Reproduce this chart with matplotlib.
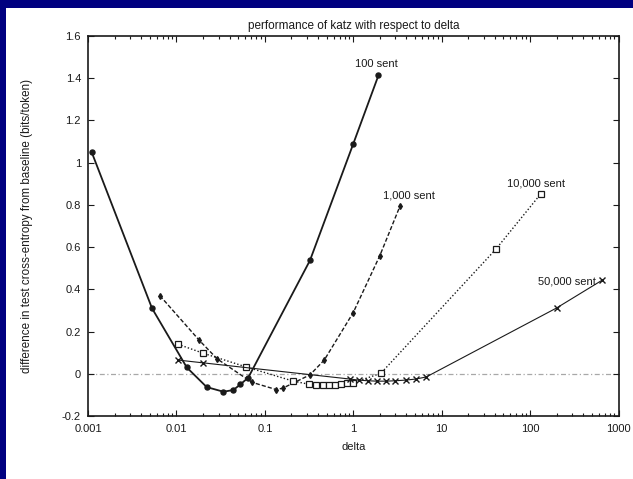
import matplotlib
matplotlib.use("Agg")
import matplotlib.pyplot as plt
from matplotlib.patches import Rectangle
from matplotlib.ticker import FixedLocator, LogLocator, NullFormatter, FixedFormatter

plt.rcParams['font.family'] = ['Liberation Sans', 'DejaVu Sans']

# delta values and cross-entropy differences for each training-set size
delta_100 = [0.0011, 0.0053, 0.0131, 0.022, 0.034, 0.044, 0.053, 0.065, 0.324, 1.0, 1.93]
diff_100 = [1.05, 0.31, 0.03, -0.063, -0.085, -0.077, -0.05, -0.018, 0.537, 1.089, 1.414]

delta_1k = [0.0065, 0.018, 0.029, 0.071, 0.135, 0.16, 0.324, 0.47, 1.0, 2.0, 3.4]
diff_1k = [0.37, 0.16, 0.07, -0.04, -0.075, -0.068, -0.005, 0.065, 0.29, 0.56, 0.797]

delta_10k = [0.0104, 0.0202, 0.062, 0.21, 0.32, 0.38, 0.45, 0.53, 0.62, 0.72, 0.86, 1.0, 2.05, 41.0, 132.0]
diff_10k = [0.14, 0.097, 0.032, -0.035, -0.05, -0.052, -0.053, -0.053, -0.052, -0.05, -0.046, -0.042, 0.002, 0.59, 0.852]

delta_50k = [0.0104, 0.0198, 0.92, 1.15, 1.45, 1.85, 2.35, 3.0, 3.9, 5.1, 6.7, 200.0, 645.0]
diff_50k = [0.065, 0.052, -0.025, -0.03, -0.033, -0.035, -0.035, -0.033, -0.03, -0.025, -0.015, 0.312, 0.442]

series_labels = ["100 sent", "1,000 sent", "10,000 sent", "50,000 sent"]

x_ticks = [0.001, 0.01, 0.1, 1, 10, 100, 1000]
x_tick_labels = ["0.001", "0.01", "0.1", "1", "10", "100", "1000"]
y_ticks = [-0.2, 0, 0.2, 0.4, 0.6, 0.8, 1, 1.2, 1.4, 1.6]
y_tick_labels = ["-0.2", "0", "0.2", "0.4", "0.6", "0.8", "1", "1.2", "1.4", "1.6"]

ink = "#1a1a1a"

fig = plt.figure(figsize=(6.33, 4.79), dpi=100, facecolor="white")
W, H = 633, 479
# navy slide border along the top and left edges
fig.patches.append(Rectangle((0, 1 - 8 / H), 1, 8 / H, transform=fig.transFigure,
                             facecolor="#000080", edgecolor="none", zorder=0))
fig.patches.append(Rectangle((0, 0), 6 / W, 1, transform=fig.transFigure,
                             facecolor="#000080", edgecolor="none", zorder=0))

left, right, top, bottom = 88, 618.5, 36, 416
ax = fig.add_axes([left / W, 1 - bottom / H, (right - left) / W, (bottom - top) / H])
ax.set_xscale("log")
ax.set_xlim(0.001, 1000)
ax.set_ylim(-0.2, 1.6)

# zero reference line
ax.axhline(0, color="#a8a8a8", lw=0.9, ls=(0, (4, 2, 1, 2)), zorder=1)

ax.plot(delta_100, diff_100, color=ink, lw=1.3, marker="o", ms=3.6,
        markerfacecolor=ink, markeredgecolor=ink, zorder=4)
ax.plot(delta_1k, diff_1k, color=ink, lw=1.0, ls=(0, (3, 1.5)), marker="d", ms=3.0,
        markerfacecolor=ink, markeredgecolor=ink, zorder=3)
ax.plot(delta_10k, diff_10k, color=ink, lw=1.0, ls=(0, (1, 1.5)), marker="s", ms=4.5,
        markerfacecolor="white", markeredgecolor=ink, markeredgewidth=0.9, zorder=3)
ax.plot(delta_50k, diff_50k, color=ink, lw=0.8, marker="x", ms=4.5,
        markeredgewidth=1.0, zorder=3)

fs = 8
ax.text(1.83, 1.445, series_labels[0], ha="center", va="bottom", fontsize=fs, color=ink)
ax.text(4.25, 0.82, series_labels[1], ha="center", va="bottom", fontsize=fs, color=ink)
ax.text(116, 0.88, series_labels[2], ha="center", va="bottom", fontsize=fs, color=ink)
ax.text(560, 0.437, series_labels[3], ha="right", va="center", fontsize=fs, color=ink)

ax.xaxis.set_major_locator(FixedLocator(x_ticks))
ax.xaxis.set_major_formatter(FixedFormatter(x_tick_labels))
ax.xaxis.set_minor_locator(LogLocator(base=10, subs=range(2, 10), numticks=20))
ax.xaxis.set_minor_formatter(NullFormatter())
ax.yaxis.set_major_locator(FixedLocator(y_ticks))
ax.yaxis.set_major_formatter(FixedFormatter(y_tick_labels))

ax.tick_params(which="both", direction="in", top=True, right=True, colors=ink,
               labelsize=fs, width=0.8)
ax.tick_params(which="major", length=4.5)
ax.tick_params(which="minor", length=2.5)
ax.tick_params(axis="x", which="major", pad=6)
ax.tick_params(axis="y", which="major", pad=5)

for s in ax.spines.values():
    s.set_color(ink)
    s.set_linewidth(1.2)

ax.set_title("performance of katz with respect to delta", fontsize=8.5, color=ink, pad=5)
ax.set_xlabel("delta", fontsize=fs, color=ink)
ax.xaxis.set_label_coords(0.5, -0.068)
ax.set_ylabel("difference in test cross-entropy from baseline (bits/token)", fontsize=8.4, color=ink)
ax.yaxis.set_label_coords(-0.104, 0.5)

fig.savefig("out.png", dpi=100, facecolor=fig.get_facecolor())
